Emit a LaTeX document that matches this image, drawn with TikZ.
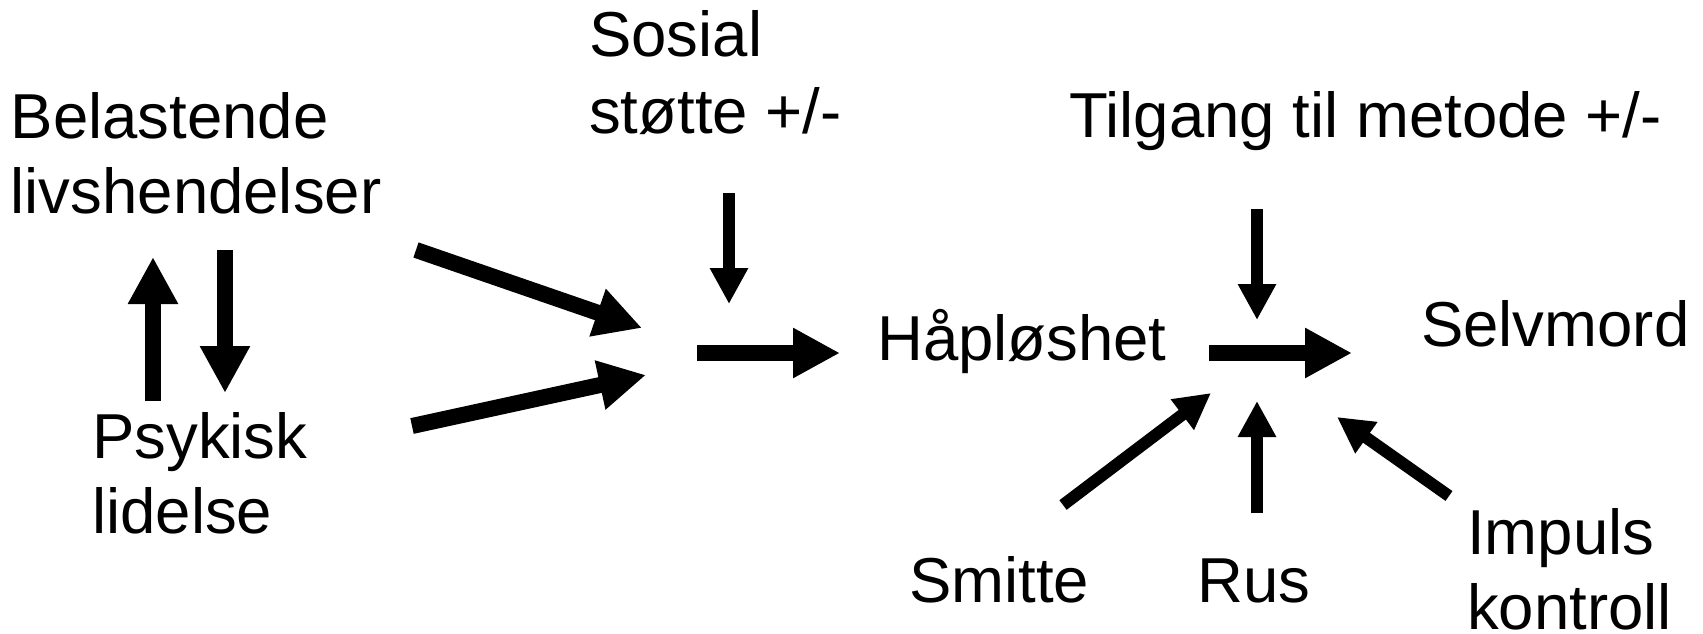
\documentclass[tikz,border=0pt]{standalone}
\usepackage{fontspec}
\setmainfont{Liberation Sans}
\usetikzlibrary{arrows.meta}
\begin{document}
\begin{tikzpicture}[x=1pt,y=-1pt,
  lbl/.style={anchor=base west,inner sep=0pt,align=left,font=\fontsize{63.5}{75}\selectfont},
  big/.style={line width=16pt,-{Triangle[length=47pt,width=47pt]}},
  small/.style={line width=12pt,-{Triangle[length=36pt,width=36pt]}}]
\useasboundingbox (0,0) rectangle (1703,634);
% labels (base anchor = baseline of last line)
\node[lbl] (bel) at (10.5,213) {Belastende\\livshendelser};
\node[lbl] (psy) at (92,533) {Psykisk\\lidelse};
\node[lbl,font=\fontsize{63.5}{77}\selectfont] (sos) at (589,133) {Sosial\\støtte +/-};
\node[lbl] (til) at (1069,137) {Tilgang til metode +/-};
\node[lbl] (hap) at (877,360) {Håpløshet};
\node[lbl] (sel) at (1421,346) {Selvmord};
\node[lbl] (smi) at (909,602) {Smitte};
\node[lbl] (rus) at (1197,602) {Rus};
\node[lbl] (imp) at (1467,629) {Impuls\\kontroll};
% arrow end points
\coordinate (upA) at (153,401); \coordinate (upB) at (153,257);
\coordinate (dnA) at (225,250); \coordinate (dnB) at (225,393);
\coordinate (d1A) at (416,250); \coordinate (d1B) at (642,328);
\coordinate (d2A) at (412,426); \coordinate (d2B) at (646,375);
\coordinate (sA) at (729,193); \coordinate (sB) at (729,304);
\coordinate (h1A) at (697,353); \coordinate (h1B) at (840,353);
\coordinate (h2A) at (1209,353); \coordinate (h2B) at (1352,353);
\coordinate (tA) at (1257,209); \coordinate (tB) at (1257,320);
\coordinate (smA) at (1063,505); \coordinate (smB) at (1211,393);
\coordinate (rA) at (1257,513); \coordinate (rB) at (1257,401);
\coordinate (iA) at (1449,496); \coordinate (iB) at (1337,417);
% arrows
\draw[big] (upA) -- (upB);
\draw[big] (dnA) -- (dnB);
\draw[big] (d1A) -- (d1B);
\draw[big] (d2A) -- (d2B);
\draw[small] (sA) -- (sB);
\draw[big] (h1A) -- (h1B);
\draw[big] (h2A) -- (h2B);
\draw[small] (tA) -- (tB);
\draw[small] (smA) -- (smB);
\draw[small] (rA) -- (rB);
\draw[small] (iA) -- (iB);
\end{tikzpicture}
\end{document}
